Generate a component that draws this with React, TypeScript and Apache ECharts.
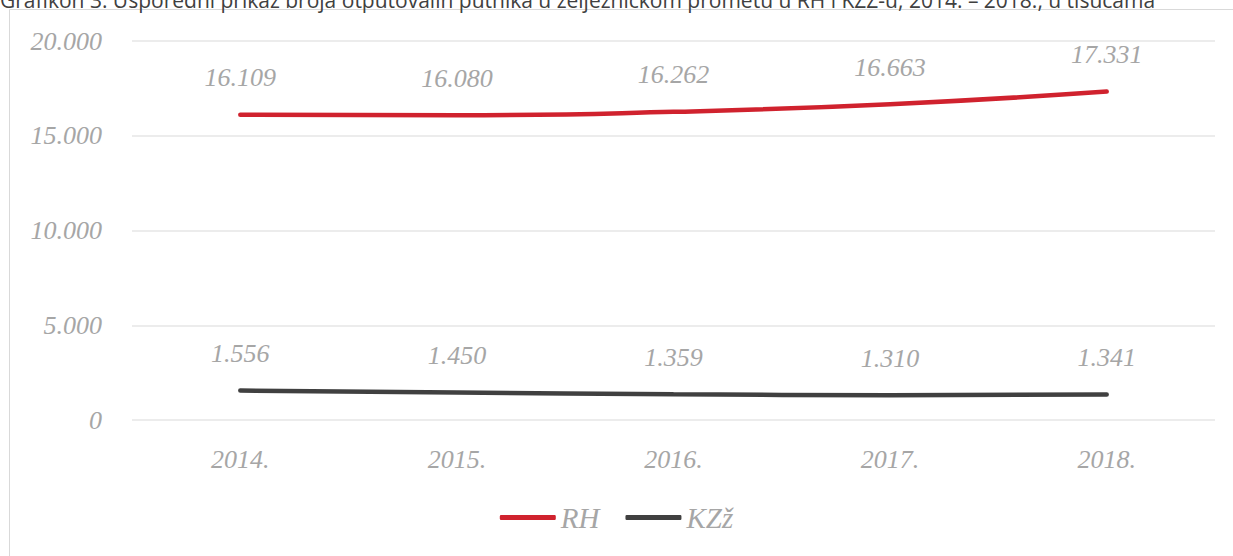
import React, { useEffect, useRef } from "react";
import * as echarts from "echarts";

const categories = ["2014.", "2015.", "2016.", "2017.", "2018."];
const rhValues = [16109, 16080, 16262, 16663, 17331];
const kzzValues = [1556, 1450, 1359, 1310, 1341];
const seriesNames = ["RH", "KZž"];
const titleText =
  "Grafikon 3. Usporedni prikaz broja otputovalih putnika u željezničkom prometu u RH i KZŽ-u, 2014. – 2018., u tisućama";

const fmt = (v: number) =>
  v === 0 ? "0" : String(v).replace(/\B(?=(\d{3})+(?!\d))/g, ".");

const serif = "'Liberation Serif', 'DejaVu Serif', serif";

export default function App() {
  const ref = useRef<HTMLDivElement>(null);
  useEffect(() => {
    if (!ref.current) return;
    const chart = echarts.init(ref.current, undefined, { renderer: "svg" });
    const labelStyle = {
      show: true,
      position: "top" as const,
      distance: 24,
      fontFamily: serif,
      fontStyle: "italic" as const,
      fontSize: 26,
      color: "#a6a6a6",
      formatter: (p: any) => fmt(p.value),
    };
    chart.setOption({
      animation: false,
      backgroundColor: "#ffffff",
      graphic: [
        {
          type: "rect",
          shape: { x: 9.5, y: 9.5, width: 1400, height: 700 },
          style: { fill: "none", stroke: "#d9d9d9", lineWidth: 1 },
        },
        {
          type: "text",
          x: 0,
          y: -11,
          style: {
            text: titleText,
            fontFamily: "'Open Sans', 'Noto Sans', sans-serif",
            fontSize: 21,
            fill: "#404040",
          },
        },
      ],
      legend: {
        data: seriesNames,
        bottom: 19,
        left: "center",
        icon: "roundRect",
        itemWidth: 56,
        itemHeight: 5,
        itemGap: 26,
        textStyle: {
          fontFamily: serif,
          fontStyle: "italic",
          fontSize: 29,
          color: "#a6a6a6",
        },
      },
      grid: { left: 132, right: 18, top: 41, bottom: 136 },
      xAxis: {
        type: "category",
        data: categories,
        boundaryGap: true,
        axisLine: { show: false },
        axisTick: { show: false },
        axisLabel: {
          margin: 26,
          fontFamily: serif,
          fontStyle: "italic",
          fontSize: 26,
          color: "#a6a6a6",
        },
      },
      yAxis: {
        type: "value",
        min: 0,
        max: 20000,
        interval: 5000,
        axisLine: { show: false },
        axisTick: { show: false },
        splitLine: { lineStyle: { color: "#e6e6e6", width: 1.5 } },
        axisLabel: {
          margin: 30,
          fontFamily: serif,
          fontStyle: "italic",
          fontSize: 26,
          color: "#a6a6a6",
          formatter: (v: number) => fmt(v),
        },
      },
      series: [
        {
          name: seriesNames[0],
          type: "line",
          data: rhValues,
          smooth: true,
          symbol: "circle",
          symbolSize: 0,
          showSymbol: true,
          lineStyle: { color: "#d0222e", width: 4.5, cap: "round" },
          itemStyle: { color: "#d0222e" },
          label: labelStyle,
        },
        {
          name: seriesNames[1],
          type: "line",
          data: kzzValues,
          smooth: true,
          symbol: "circle",
          symbolSize: 0,
          showSymbol: true,
          lineStyle: { color: "#404040", width: 4.5, cap: "round" },
          itemStyle: { color: "#404040" },
          label: labelStyle,
        },
      ],
    });
    return () => chart.dispose();
  }, []);
  return (
    <div
      ref={ref}
      style={{ position: "absolute", left: 0, top: 0, width: 1233, height: 556 }}
    />
  );
}
